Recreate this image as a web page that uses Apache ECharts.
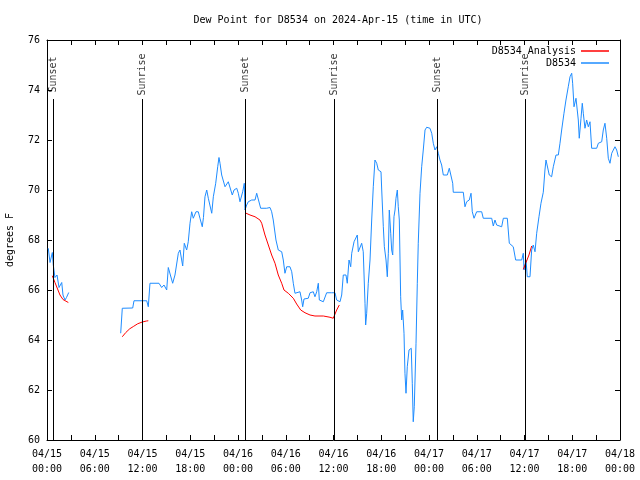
<!DOCTYPE html>
<html><head><meta charset="utf-8">
<script src="https://cdn.jsdelivr.net/npm/echarts@6/dist/echarts.min.js"></script>
<style>html,body{margin:0;padding:0;background:#fff}#c{width:640px;height:480px}</style>
</head><body><div id="c"></div>
<script>
// Hours since 2024-04-15 00:00 UTC
const titleText = "Dew Point for D8534 on 2024-Apr-15 (time in UTC)";
const xTickLabels = ["04/15\n00:00","04/15\n06:00","04/15\n12:00","04/15\n18:00","04/16\n00:00","04/16\n06:00","04/16\n12:00","04/16\n18:00","04/17\n00:00","04/17\n06:00","04/17\n12:00","04/17\n18:00","04/18\n00:00"];
const sunEvents = ["Sunset","Sunrise","Sunset","Sunrise","Sunset","Sunrise"];
const sunHours = [0.79, 11.97, 24.92, 36.10, 49.04, 60.10];

const obsHours = [0.16,0.38,0.67,0.79,1.0,1.26,1.51,1.85,2.01,2.26,2.45,2.73,
 6.0,
 9.26,9.46,10.77,10.93,12.53,12.73,12.94,14.07,14.41,14.70,15.04,15.24,15.46,15.79,16.08,16.50,16.71,17.05,17.25,17.55,17.75,17.97,18.18,18.38,18.72,19.01,19.22,19.51,19.66,19.85,20.07,20.27,20.48,20.70,20.90,21.20,21.45,21.61,21.74,21.95,22.15,22.37,22.58,22.78,22.99,23.28,23.50,23.84,24.04,24.25,24.59,24.79,24.88,25.09,25.29,25.72,26.14,26.35,26.55,26.85,27.60,28.02,28.23,28.43,28.77,29.06,29.49,29.69,29.90,30.12,30.53,30.75,30.95,31.16,31.37,31.79,32.00,32.13,32.29,32.83,33.05,33.46,33.67,33.89,34.09,34.22,34.72,35.14,35.77,36.19,36.40,36.82,37.03,37.23,37.57,37.73,37.95,38.16,38.29,38.58,38.83,38.99,39.12,39.33,39.54,39.74,39.96,40.04,40.17,40.37,40.59,40.80,41.00,41.21,41.43,41.63,41.97,42.06,42.26,42.39,42.60,42.76,42.89,43.01,43.19,43.31,43.44,43.60,43.73,43.85,44.02,44.14,44.27,44.44,44.57,44.69,44.86,44.98,45.11,45.27,45.49,45.77,45.90,46.02,46.15,46.37,46.53,46.65,46.87,47.08,47.28,47.50,47.71,48.12,48.34,48.54,48.75,48.97,49.17,49.38,49.59,49.80,50.30,50.55,50.76,50.98,51.05,52.31,52.52,52.73,53.06,53.28,53.44,53.66,53.99,54.62,54.82,55.88,56.08,56.29,56.50,56.71,57.13,57.34,57.84,58.09,58.59,58.89,59.65,59.85,59.94,60.19,60.35,60.69,60.90,61.10,61.32,61.53,61.82,62.07,62.36,62.57,62.70,62.91,63.11,63.41,63.62,63.96,64.25,64.46,64.67,64.96,65.21,65.50,65.72,65.93,66.05,66.22,66.47,66.63,66.76,66.88,67.10,67.26,67.39,67.60,67.81,68.02,68.23,68.44,69.07,69.28,69.70,69.90,70.11,70.33,70.53,70.74,70.96,71.16,71.37,71.58,71.79];
const obsValues = [67.67,67.1,67.5,67.0,66.5,66.6,66.1,66.3,65.8,65.6,65.7,65.9,
 null,
 64.27,65.27,65.28,65.57,65.57,65.33,66.27,66.27,66.1,66.2,66.0,66.9,66.9,66.27,66.6,67.47,67.6,66.96,67.87,67.6,67.93,68.67,69.13,68.87,69.13,69.13,68.87,68.53,68.9,69.73,70.0,69.67,69.6,69.07,69.73,70.27,70.93,71.3,71.07,70.6,70.53,70.13,70.2,70.33,70.33,69.8,70.0,70.07,69.87,69.53,69.93,70.27,69.2,69.4,69.53,69.6,69.6,69.87,69.8,69.27,69.27,69.3,69.13,68.8,68.0,67.6,67.53,67.2,66.67,66.93,66.93,66.73,66.27,65.87,65.93,65.93,65.6,65.33,65.64,65.67,65.89,65.93,65.73,65.93,66.27,65.6,65.53,65.89,65.89,65.89,65.6,65.53,65.8,66.6,66.6,66.27,67.2,66.93,67.47,67.93,68.0,68.2,67.53,67.6,67.87,67.53,65.47,64.6,65.07,66.27,67.2,68.8,70.13,71.2,71.07,70.8,70.73,70.0,68.53,67.73,67.2,66.53,67.47,69.2,68.27,67.6,67.4,68.93,69.2,69.67,70.0,69.33,68.8,65.73,64.8,65.2,64.27,62.67,61.87,62.93,63.6,63.67,62.27,60.73,61.33,63.87,66.27,67.87,69.87,70.93,71.6,72.4,72.51,72.47,72.27,71.87,71.6,71.73,71.47,71.2,71.0,70.6,70.6,70.87,70.87,70.27,69.91,69.91,69.33,69.53,69.6,69.87,69.13,68.87,69.13,69.13,68.87,68.87,68.56,68.8,68.6,68.53,68.53,68.87,68.87,67.87,67.73,67.2,67.2,67.47,66.8,67.2,66.53,66.53,67.6,67.8,67.53,68.27,68.93,69.47,69.91,70.8,71.2,71.2,70.6,70.53,70.93,71.4,71.4,71.87,72.4,73.07,73.6,74.13,74.53,74.67,74.27,73.33,73.67,73.6,72.8,72.07,72.87,73.47,73.07,72.47,72.8,72.53,72.73,71.67,71.67,71.87,71.93,72.4,72.67,72.07,71.27,71.07,71.47,71.6,71.73,71.6,71.33];

const anaHours = [0.67,1.0,1.38,1.63,2.01,2.68,
 5.0,
 9.46,9.9,10.4,10.9,11.4,11.97,12.5,12.73,
 18.0,
 24.88,25.51,26.14,26.76,26.98,27.39,27.81,28.23,28.65,29.06,29.49,29.78,30.32,30.95,31.37,31.88,32.42,33.05,33.67,34.72,35.56,35.97,36.40,36.73,
 48.0,
 59.85,60.19,60.56,60.90];
const anaValues = [66.57,66.3,66.0,65.8,65.62,65.5,
 null,
 64.13,64.3,64.45,64.55,64.65,64.72,64.76,64.77,
 null,
 69.09,69.0,68.93,68.8,68.67,68.2,67.8,67.4,67.07,66.6,66.27,66.0,65.87,65.67,65.44,65.2,65.09,65.0,64.96,64.96,64.91,64.87,65.2,65.4,
 null,
 66.83,67.1,67.4,67.76];

const FONT = "DejaVu Sans Mono";
const chart = echarts.init(document.getElementById('c'), null, {renderer:'canvas'});
const pairs = (h, v) => h.map((x, i) => [x, v[i]]);

const xCommon = {
  type:'value', min:0, max:72, interval:6,
  axisLine:{show:true, onZero:false, lineStyle:{color:'#000', width:1}},
  axisTick:{show:true, inside:true, length:5, lineStyle:{color:'#000'}},
  minorTick:{show:true, splitNumber:2, length:5, lineStyle:{color:'#000'}},
  splitLine:{show:false}
};
const yCommon = {
  type:'value', min:60, max:76, interval:2,
  axisLine:{show:true, onZero:false, lineStyle:{color:'#000', width:1}},
  axisTick:{show:true, inside:true, length:5, lineStyle:{color:'#000'}},
  splitLine:{show:false}
};

chart.setOption({
  animation:false,
  backgroundColor:'#fff',
  title:{text:titleText, left:333, top:10, textAlign:'center',
    textStyle:{fontFamily:FONT, fontSize:10, fontWeight:'normal', color:'#000'}},
  legend:{
    orient:'vertical', right:31, top:45, padding:0, itemGap:0, align:'right',
    icon:'rect', itemWidth:28, itemHeight:1.5,
    textStyle:{fontFamily:FONT, fontSize:10, color:'#000', lineHeight:12},
    data:['D8534 Analysis','D8534']
  },
  grid:{left:47, right:20, top:40, bottom:40, containLabel:false, outerBoundsMode:'none'},
  xAxis:[
    Object.assign({}, xCommon, {position:'bottom',
      axisLabel:{show:true, margin:7, lineHeight:15, fontFamily:FONT, fontSize:10, color:'#000',
        formatter:(v)=> xTickLabels[Math.round(v/6)] || ''}}),
    Object.assign({}, xCommon, {position:'top', axisLabel:{show:false}})
  ],
  yAxis:[
    Object.assign({}, yCommon, {position:'left',
      name:'degrees F', nameLocation:'middle', nameGap:32, nameRotate:90,
      nameTextStyle:{fontFamily:FONT, fontSize:10, color:'#000'},
      axisLabel:{show:true, margin:7, fontFamily:FONT, fontSize:10, color:'#000'}}),
    Object.assign({}, yCommon, {position:'right', axisLabel:{show:false}})
  ],
  series:[
    {
      name:'D8534 Analysis', type:'line', xAxisIndex:0, yAxisIndex:0,
      data:pairs(anaHours, anaValues), showSymbol:false, symbol:'none',
      connectNulls:false, lineStyle:{color:'#ff0000', width:1}, itemStyle:{color:'#ff0000'}, z:3
    },
    {
      name:'D8534', type:'line', xAxisIndex:0, yAxisIndex:0,
      data:pairs(obsHours, obsValues), showSymbol:false, symbol:'none',
      connectNulls:false, lineStyle:{color:'#1e8cff', width:1}, itemStyle:{color:'#1e8cff'}, z:2
    },
    {
      name:'sun', type:'scatter', xAxisIndex:0, yAxisIndex:0, symbolSize:0, silent:true,
      data: sunHours.map((h, i) => [h, 74.62, sunEvents[i]]),
      label:{show:true, position:'inside', rotate:90, formatter:(p)=>p.value[2],
        fontFamily:FONT, fontSize:10, color:'#000'},
      markLine:{
        silent:true, symbol:'none', animation:false,
        label:{show:false},
        lineStyle:{color:'#000', width:1, type:'solid'},
        data: sunHours.map(h => [{coord:[h, 73.64]}, {coord:[h, 60]}])
      },
      z:4
    }
  ]
});
</script></body></html>
